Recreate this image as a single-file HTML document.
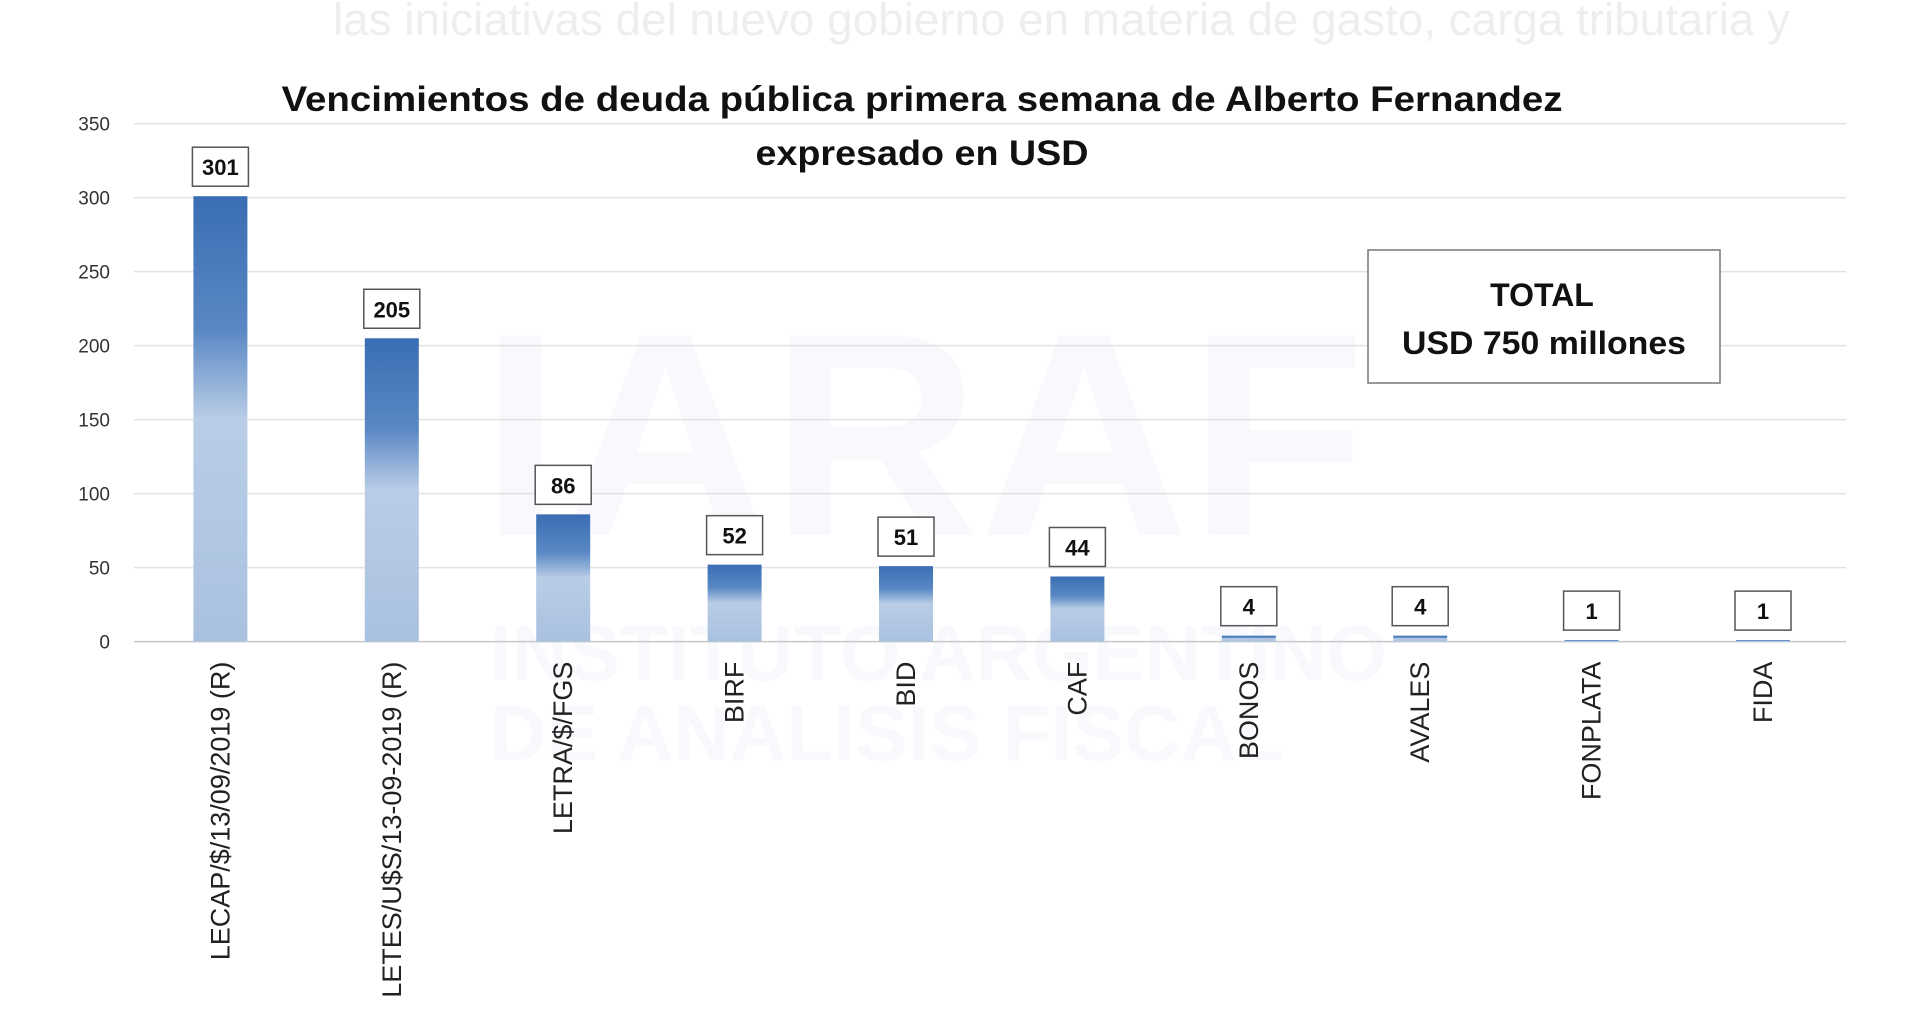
<!DOCTYPE html>
<html><head><meta charset="utf-8"><style>
html,body{margin:0;padding:0;background:#fff;}
svg{display:block;font-family:"Liberation Sans",sans-serif;}
</style></head><body>
<svg id="chart" width="1920" height="1035" viewBox="0 0 1920 1035">
<defs>
<linearGradient id="bg" x1="0" y1="0" x2="0" y2="1">
<stop offset="0" stop-color="#3a6db3"/>
<stop offset="0.3" stop-color="#5a88c4"/>
<stop offset="0.5" stop-color="#b9cde6"/>
<stop offset="1" stop-color="#a9c1e0"/>
</linearGradient>
</defs>
<text x="333" y="35" font-size="45" fill="#eeeeee" textLength="1457" lengthAdjust="spacingAndGlyphs">las iniciativas del nuevo gobierno en materia de gasto, carga tributaria y</text>
<g opacity="0.03">
<text x="480" y="535" font-size="290" font-weight="bold" fill="#3a6db3">IARAF</text>
<text x="490" y="680" font-size="78" font-weight="bold" fill="#3a6db3">INSTITUTO ARGENTINO</text>
<text x="490" y="760" font-size="78" font-weight="bold" fill="#3a6db3">DE ANALISIS FISCAL</text>
</g>
<g id="grid"></g>
<g id="bars"></g>
<text x="922" y="111" text-anchor="middle" font-size="35" font-weight="bold" fill="#111" textLength="1281" lengthAdjust="spacingAndGlyphs">Vencimientos de deuda pública primera semana de Alberto Fernandez</text>
<text x="922" y="165" text-anchor="middle" font-size="35" font-weight="bold" fill="#111" textLength="333" lengthAdjust="spacingAndGlyphs">expresado en USD</text>
<g>
<rect x="1368" y="250" width="352" height="133" fill="#fff" stroke="#777" stroke-width="1.5"/>
<text x="1542" y="306" text-anchor="middle" font-size="32" font-weight="bold" fill="#111">TOTAL</text>
<text x="1544" y="354" text-anchor="middle" font-size="32" font-weight="bold" fill="#111" textLength="284" lengthAdjust="spacingAndGlyphs">USD 750 millones</text>
</g>
</svg>
<script>
const categories=["LECAP/$/13/09/2019 (R)","LETES/U$S/13-09-2019 (R)","LETRA/$/FGS","BIRF","BID","CAF","BONOS","AVALES","FONPLATA","FIDA"];
const values=[301,205,86,52,51,44,4,4,1,1];
const ticks=[0,50,100,150,200,250,300,350];
const NS="http://www.w3.org/2000/svg";
const x0=134,x1=1846,y0=641.6,yTop=123.7,yMax=350;
const y=v=>y0-(y0-yTop)*v/yMax;
const xc=i=>220.4+i*171.4;
const mk=(t,a,p)=>{const e=document.createElementNS(NS,t);for(const k in a)e.setAttribute(k,a[k]);p.appendChild(e);return e;};
const g=document.getElementById('grid'),b=document.getElementById('bars');
ticks.forEach(t=>{
 const l=mk('line',{x1:x0,x2:x1,y1:y(t),y2:y(t),stroke:t===0?'#c8c8c8':'#e2e2e2','stroke-width':1.5},g);
 
 
 const tx=mk('text',{x:110,y:y(t)+7,'text-anchor':'end','font-size':19,fill:'#333'},g);
 tx.textContent=t;
 
 
});
categories.forEach((c,i)=>{
 const v=values[i],cx=xc(i),w=54;
 const r=mk('rect',{x:cx-w/2,y:y(v),width:w,height:Math.max(y0-y(v),2),fill:'url(#bg)'},b);
 
 
 const by=y(v)-10-39;
 const box=mk('rect',{x:cx-28,y:by,width:56,height:39,fill:'#fff',stroke:'#555','stroke-width':1.5},b);
 
 
 const vt=mk('text',{x:cx,y:by+28,'text-anchor':'middle','font-size':22,'font-weight':'bold',fill:'#111'},b);
 vt.textContent=v;
 
 
 const ct=mk('text',{x:0,y:0,'text-anchor':'end','font-size':27,fill:'#222',transform:`translate(${cx+9},${y0+20}) rotate(-90)`},b);
 ct.textContent=c;
 
 
});
</script>
</body></html>
